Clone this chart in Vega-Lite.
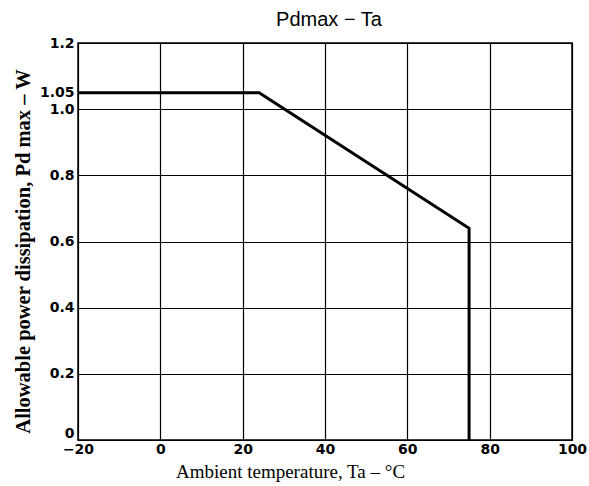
{
  "$schema": "https://vega.github.io/schema/vega-lite/v6.json",
  "width": 494,
  "height": 397,
  "autosize": {"type": "none"},
  "padding": {"left": 78, "top": 43, "right": 17, "bottom": 46},
  "background": "white",
  "title": {"text": "Pdmax − Ta", "font": "Liberation Sans", "fontSize": 20, "fontWeight": "normal", "color": "black", "offset": 6, "anchor": "middle", "dx": 4},
  "config": {"view": {"stroke": "black", "strokeWidth": 1.5}},
  "data": {"values": [
    {"ta": -20, "pd": 1.05, "k": 1},
    {"ta": 24, "pd": 1.05, "k": 2},
    {"ta": 75, "pd": 0.64, "k": 3},
    {"ta": 75, "pd": 0, "k": 4}
  ]},
  "mark": {"type": "line", "color": "black", "strokeWidth": 3, "strokeJoin": "miter"},
  "encoding": {
    "x": {"field": "ta", "type": "quantitative",
      "scale": {"domain": [-20, 100], "nice": false, "zero": false},
      "axis": {"values": [-20, 0, 20, 40, 60, 80, 100], "title": "Ambient temperature, Ta – °C",
        "titleFont": "Liberation Serif", "titleFontSize": 19, "titleFontWeight": "normal", "titleColor": "black", "titlePadding": 6, "titleX": 212,
        "labelFont": "DejaVu Sans", "labelFontSize": 14, "labelFontWeight": "bold", "labelColor": "black", "labelPadding": 2,
        "ticks": false, "domain": false, "gridColor": "black", "gridOpacity": 1, "gridWidth": 1.2, "labelOverlap": false, "labelFlush": false}},
    "y": {"field": "pd", "type": "quantitative",
      "scale": {"domain": [0, 1.2], "nice": false},
      "axis": {"values": [0, 0.2, 0.4, 0.6, 0.8, 1.0, 1.05, 1.2], "labelExpr": "datum.value == 0 ? '0' : datum.value == 1.05 ? '1.05' : format(datum.value, '.1f')",
        "title": "Allowable power dissipation, Pd max – W",
        "titleFont": "Liberation Serif", "titleFontSize": 20.5, "titleFontWeight": "bold", "titleColor": "black", "titlePadding": 6, "titleY": 208,
        "labelFont": "DejaVu Sans", "labelFontSize": 14, "labelFontWeight": "bold", "labelColor": "black", "labelPadding": 4,
        "labelBaseline": {"condition": {"test": "datum.value == 0", "value": "bottom"}, "value": "middle"},
        "ticks": false, "domain": false, "gridColor": "black", "gridOpacity": {"condition": {"test": "datum.value == 1.05", "value": 0}, "value": 1}, "gridWidth": 1.2, "labelOverlap": false, "labelFlush": false}},
    "order": {"field": "k"}
  }
}
